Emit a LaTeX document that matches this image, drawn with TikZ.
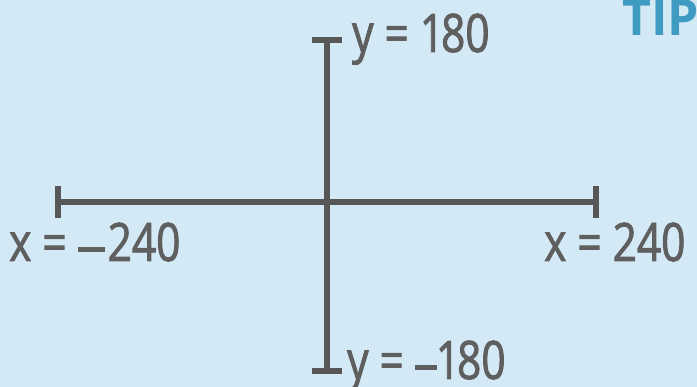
\documentclass[tikz,border=0pt]{standalone}
\usepackage{fontspec}
\setmainfont{Open Sans}[FakeStretch=0.8,FakeBold=1.6]
\newfontfamily\tipfont{Open Sans Bold}
\definecolor{bgc}{HTML}{D3E9F5}
\definecolor{axisc}{HTML}{575757}
\definecolor{textc}{HTML}{5F5F5F}
\definecolor{tipc}{HTML}{3F9BC1}
\newcommand{\mdash}[1]{\rule[8.5pt]{#1}{5pt}}
\begin{document}
\begin{tikzpicture}[x=1pt,y=-1pt,
  axis/.style={draw=axisc,line width=6pt},
  lbl/.style={text=textc,inner sep=0pt,anchor=base west,font=\fontsize{53}{53}\selectfont}]
\fill[bgc] (0,0) rectangle (697,387);
\useasboundingbox (0,0) rectangle (697,387);
% axis ends
\coordinate (top) at (327,40);
\coordinate (bot) at (327,371);
\coordinate (left) at (58,202);
\coordinate (right) at (596,202);
\coordinate (topL) at (312,40);
\coordinate (topR) at (342,40);
\coordinate (botL) at (312,371);
\coordinate (botR) at (342,371);
\coordinate (leftT) at (58,186);
\coordinate (leftB) at (58,218);
\coordinate (rightT) at (596,186);
\coordinate (rightB) at (596,218);
\draw[axis] (top) -- (bot);
\draw[axis] (left) -- (right);
\draw[axis] (topL) -- (topR);
\draw[axis] (botL) -- (botR);
\draw[axis] (leftT) -- (leftB);
\draw[axis] (rightT) -- (rightB);
% labels
\node[lbl] (ytop) at (352,52) {y = 1\kern-3pt80};
\node[lbl] (ybot) at (347,379) {y = \mdash{22pt}\kern-1pt1\kern-3pt80};
\node[lbl] (xleft) at (9,261) {x = \mdash{27pt}\kern3pt240};
\node[lbl] (xright) at (544,261) {x = 240};
\node[text=tipc,inner sep=0pt,anchor=base west,font=\fontsize{50}{50}\tipfont] (tip) at (622,36) {TIP};
\end{tikzpicture}
\end{document}
